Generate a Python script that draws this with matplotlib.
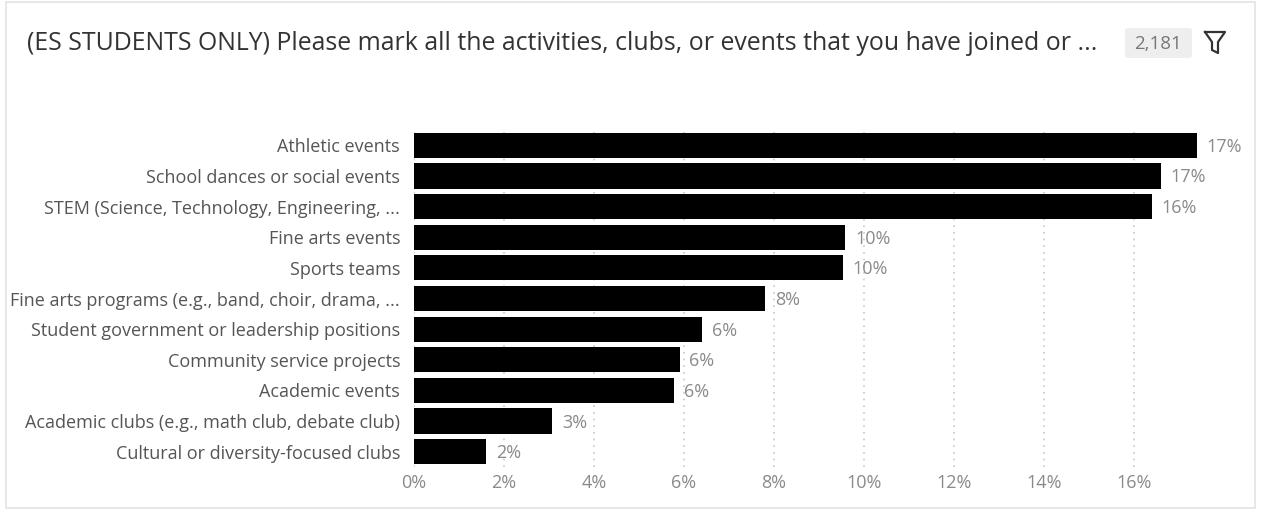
import numpy as np
import matplotlib
matplotlib.use("Agg")
import matplotlib.pyplot as plt
from matplotlib.patches import Rectangle, FancyBboxPatch

plt.rcParams['font.family'] = ['Open Sans', 'DejaVu Sans']

# datos de la pregunta (porcentaje de respuestas)
categories = [
    "Athletic events",
    "School dances or social events",
    "STEM (Science, Technology, Engineering, ...",
    "Fine arts events",
    "Sports teams",
    "Fine arts programs (e.g., band, choir, drama, ...",
    "Student government or leadership positions",
    "Community service projects",
    "Academic events",
    "Academic clubs (e.g., math club, debate club)",
    "Cultural or diversity-focused clubs",
]
percents = [17.4, 16.6, 16.4, 9.58, 9.53, 7.8, 6.4, 5.9, 5.78, 3.07, 1.6]
xticks = [0, 2, 4, 6, 8, 10, 12, 14, 16]
title = "(ES STUDENTS ONLY) Please mark all the activities, clubs, or events that you have joined or ..."
n_responses = "2,181"

W, H = 1267, 512
fig = plt.figure(figsize=(W / 100, H / 100), dpi=100)

# marco de la tarjeta
fig.patches.append(Rectangle((6 / W, 4 / H), 1249 / W, (H - 6) / H, transform=fig.transFigure,
                             fill=False, edgecolor='#e3e3e3', linewidth=1.2))

ax = fig.add_axes([414 / W, 1 - 467 / H, 783 / W, 337 / H])
y = np.arange(len(categories))
ax.barh(y, percents, height=0.82, color='black', zorder=3)
for yi, p in zip(y, percents):
    ax.text(p + 0.22, yi + 0.05, f"{p:.0f}%", va='center', ha='left', fontsize=13, color='#8a8a8a')

ax.set_xlim(0, max(percents))
ax.set_ylim(len(categories) - 0.5, -0.5)
ax.set_yticks(y)
ax.set_yticklabels(categories, fontsize=13, color='#555555')
ax.set_xticks(xticks)
ax.set_xticklabels([f"{t}%" for t in xticks], fontsize=13, color='#8a8a8a')
ax.tick_params(length=0)
ax.tick_params(axis='y', pad=10)
ax.tick_params(axis='x', pad=5)
for s in ax.spines.values():
    s.set_visible(False)
ax.xaxis.grid(True, linestyle=(0, (1, 3)), color='#c8c8c8', linewidth=1.2, zorder=0)
ax.set_axisbelow(True)

# titulo y contador
fig.text(27 / W, 1 - 43 / H, title, fontsize=17.9, color='#333333', va='center', ha='left')
fig.patches.append(FancyBboxPatch((1125 / W, 1 - 58 / H), 67 / W, 30 / H,
                                  boxstyle='round,pad=0,rounding_size=0.004',
                                  transform=fig.transFigure, facecolor='#eeeeee',
                                  edgecolor='none'))
fig.text(1158 / W, 1 - 44 / H, n_responses, fontsize=13.5, color='#777777', va='center', ha='center')

# icono de filtro
fx = np.array([1205, 1225, 1218, 1218, 1212, 1212, 1205])
fy = np.array([32, 32, 42, 53, 50, 42, 32])
fig.add_artist(plt.Line2D(fx / W, 1 - fy / H, transform=fig.transFigure, color='#333333',
                          linewidth=1.6, solid_joinstyle='round'))

fig.savefig("out.png", dpi=100)
